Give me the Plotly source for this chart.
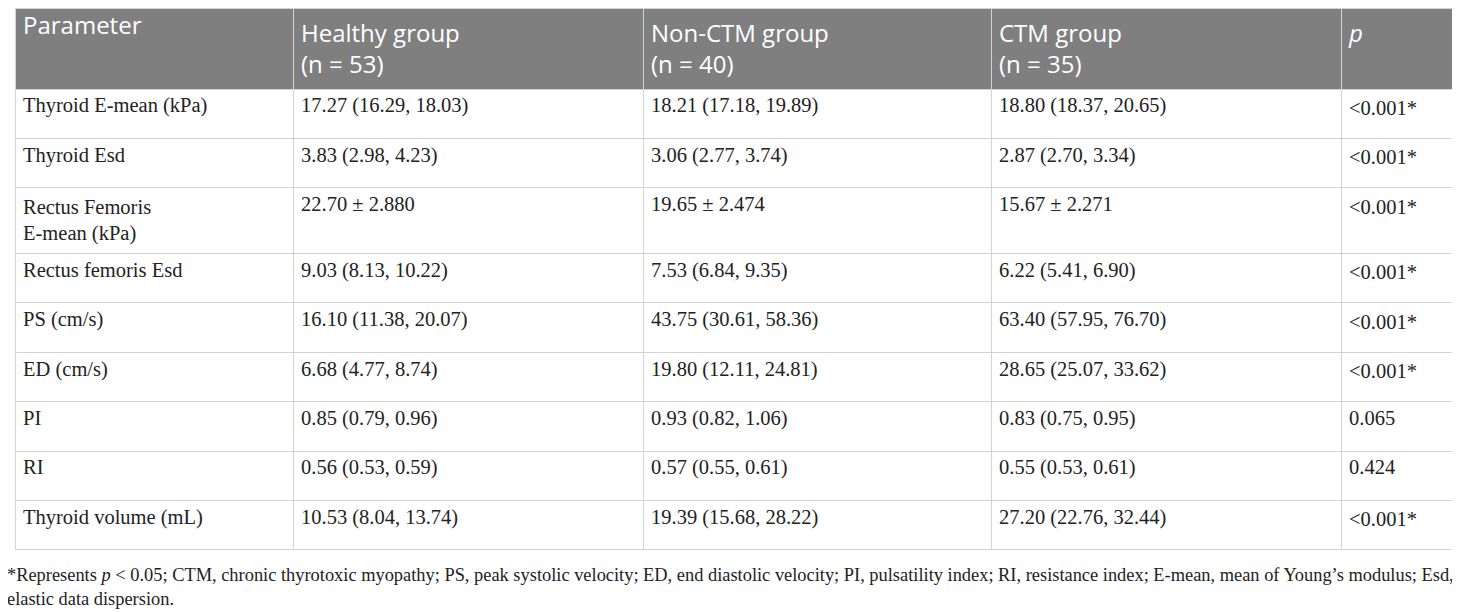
import plotly.graph_objects as go

# table content
headers = [
    "Parameter",
    "Healthy group<br>(n = 53)",
    "Non-CTM group<br>(n = 40)",
    "CTM group<br>(n = 35)",
    "<i>p</i>",
]
parameters = [
    "Thyroid E-mean (kPa)",
    "Thyroid Esd",
    "Rectus Femoris<br>E-mean (kPa)",
    "Rectus femoris Esd",
    "PS (cm/s)",
    "ED (cm/s)",
    "PI",
    "RI",
    "Thyroid volume (mL)",
]
healthy = [
    "17.27 (16.29, 18.03)",
    "3.83 (2.98, 4.23)",
    "22.70 ± 2.880",
    "9.03 (8.13, 10.22)",
    "16.10 (11.38, 20.07)",
    "6.68 (4.77, 8.74)",
    "0.85 (0.79, 0.96)",
    "0.56 (0.53, 0.59)",
    "10.53 (8.04, 13.74)",
]
non_ctm = [
    "18.21 (17.18, 19.89)",
    "3.06 (2.77, 3.74)",
    "19.65 ± 2.474",
    "7.53 (6.84, 9.35)",
    "43.75 (30.61, 58.36)",
    "19.80 (12.11, 24.81)",
    "0.93 (0.82, 1.06)",
    "0.57 (0.55, 0.61)",
    "19.39 (15.68, 28.22)",
]
ctm = [
    "18.80 (18.37, 20.65)",
    "2.87 (2.70, 3.34)",
    "15.67 ± 2.271",
    "6.22 (5.41, 6.90)",
    "63.40 (57.95, 76.70)",
    "28.65 (25.07, 33.62)",
    "0.83 (0.75, 0.95)",
    "0.55 (0.53, 0.61)",
    "27.20 (22.76, 32.44)",
]
p_values = [
    "&lt;0.001*",
    "&lt;0.001*",
    "&lt;0.001*",
    "&lt;0.001*",
    "&lt;0.001*",
    "&lt;0.001*",
    "0.065",
    "0.424",
    "&lt;0.001*",
]
footnote = (
    "*Represents <i>p</i> &lt; 0.05; CTM, chronic thyrotoxic myopathy; PS, peak systolic velocity; "
    "ED, end diastolic velocity; PI, pulsatility index; RI, resistance index; E-mean, mean of Young’s modulus; Esd,"
    "<br>elastic data dispersion."
)

grid = "#d3d3d3"

fig = go.Figure(
    go.Table(
        columnwidth=[278, 350, 348, 350, 120],
        header=dict(
            values=headers,
            fill_color="#7f7f7f",
            line_color=grid,
            line_width=1,
            align="left",
            height=81,
            font=dict(family="Open Sans", size=24, color="white"),
        ),
        cells=dict(
            values=[parameters, healthy, non_ctm, ctm, p_values],
            fill_color="white",
            line_color=grid,
            line_width=1,
            align="left",
            height=49.4,
            font=dict(family="Liberation Serif", size=20.5, color="#222222"),
        ),
        domain=dict(x=[0, 1], y=[0, 1]),
    )
)

fig.add_annotation(
    text=footnote,
    xref="paper",
    yref="paper",
    x=0,
    y=0,
    xanchor="left",
    yanchor="top",
    xshift=-10,
    yshift=-6,
    align="left",
    showarrow=False,
    font=dict(family="Liberation Serif", size=18.4, color="#222222"),
)

fig.update_layout(
    width=1460,
    height=612,
    margin=dict(l=7, r=7, t=0, b=63),
    paper_bgcolor="white",
)

fig.write_html("out.html")
